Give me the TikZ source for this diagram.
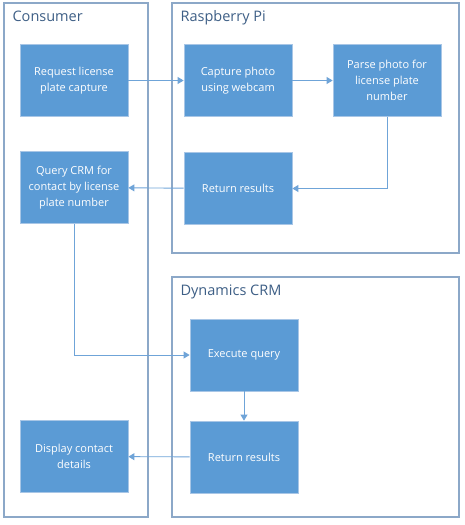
\documentclass[tikz,border=0pt]{standalone}
\usepackage{fontspec}
\setmainfont{Open Sans}
\usepackage{xcolor}
\usepackage{tikz}
\usetikzlibrary{arrows.meta, positioning}

\definecolor{boxblue}{HTML}{5B9BD5}
\definecolor{boxedge}{HTML}{A8C6E6}
\definecolor{laneedge}{HTML}{8CA8C8}
\definecolor{lanetext}{HTML}{3E5F86}
\definecolor{flowline}{HTML}{6FA4D8}

\begin{document}
\begin{tikzpicture}[x=1pt, y=-1pt, >={Triangle[length=6pt,width=7pt]}]
        % Stijlen voor banen, stappen en pijlen
        \tikzstyle{lane} = [rectangle, draw=laneedge, line width=1.2pt, fill=white, inner sep=0pt]
        \tikzstyle{lanetitle} = [anchor=north west, inner sep=0pt, text=lanetext, font=\fontsize{14.5}{17}\selectfont]
        \tikzstyle{stepbox} = [rectangle, minimum width=108pt, minimum height=72pt, align=center, draw=boxedge, line width=0.8pt, fill=boxblue, text=white, font=\fontsize{11}{16}\selectfont]
        \tikzstyle{arrow} = [draw=flowline, line width=0.9pt, ->]

        \useasboundingbox (0,0) rectangle (465,525);

        % Banen
        \node (consumer) [lane, minimum width=144pt, minimum height=514pt] at (76,260) {};
        \node (raspi) [lane, minimum width=287pt, minimum height=250pt] at (315.5,128) {};
        \node (crm) [lane, minimum width=287pt, minimum height=240pt] at (315.5,397) {};
        \node [lanetitle] at ([xshift=9pt,yshift=-8pt]consumer.north west) {Consumer};
        \node [lanetitle] at ([xshift=9pt,yshift=-8pt]raspi.north west) {Raspberry Pi};
        \node [lanetitle] at ([xshift=9pt,yshift=-8pt]crm.north west) {Dynamics CRM};

        % Stappen
        \node (request) [stepbox] at (74,80.5) {Request license\\plate capture};
        \node (capture) [stepbox] at (238,80.5) {Capture photo\\using webcam};
        \node (parse) [stepbox] at (387,80.5) {Parse photo for\\license plate\\number};
        \node (piresults) [stepbox] at (238,188.5) {Return results};
        \node (query) [stepbox] at (74,187.5) {Query CRM for\\contact by license\\plate number};
        \node (execute) [stepbox] at (244,355) {Execute query};
        \node (crmresults) [stepbox] at (244,457) {Return results};
        \node (display) [stepbox] at (74,456.5) {Display contact\\details};

        % Pijlen
        \draw [arrow] (request) -- (capture);
        \draw [arrow] (capture) -- (parse);
        \draw [arrow] (parse) |- (piresults);
        \draw [arrow] (piresults) -- (query);
        \draw [arrow] (query) |- (execute);
        \draw [arrow] (execute) -- (crmresults);
        \draw [arrow] (crmresults) -- (display);
    \end{tikzpicture}
\end{document}
